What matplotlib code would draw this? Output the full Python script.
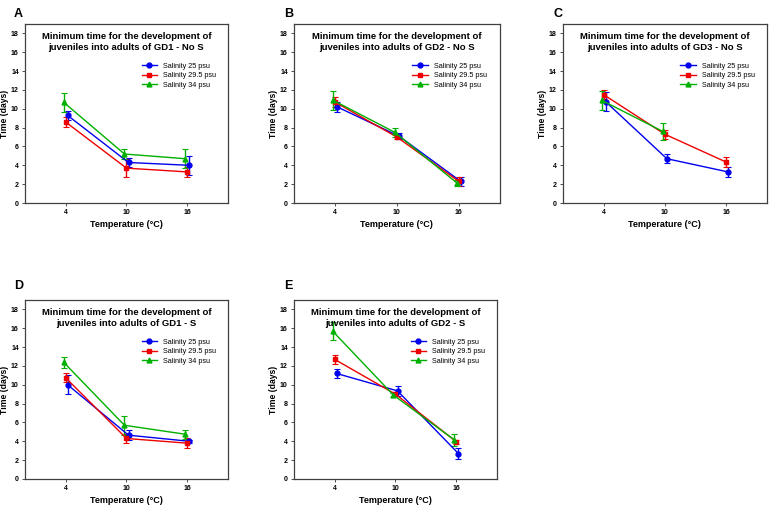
import numpy as np
import matplotlib
matplotlib.use("Agg")
import matplotlib.pyplot as plt
from matplotlib.lines import Line2D

plt.rcParams['font.family'] = ['Liberation Sans', 'DejaVu Sans']

temps = [4, 10, 16]
series_names = ["Salinity 25 psu", "Salinity 29.5 psu", "Salinity 34 psu"]
panel_letters = ["A", "B", "C", "D", "E"]
panel_titles = [
    "Minimum time for the development of\njuveniles into adults of GD1 - No S",
    "Minimum time for the development of\njuveniles into adults of GD2 - No S",
    "Minimum time for the development of\njuveniles into adults of GD3 - No S",
    "Minimum time for the development of\njuveniles into adults of GD1 - S",
    "Minimum time for the development of\njuveniles into adults of GD2 - S",
]

# means per panel: [25 psu, 29.5 psu, 34 psu], each at 4, 10, 16 C
means_A = [[9.3, 4.3, 4.0], [8.6, 3.7, 3.3], [10.7, 5.2, 4.7]]
errs_A = [[0.5, 0.5, 1.0], [0.55, 0.95, 0.5], [1.0, 0.5, 1.0]]
means_B = [[10.2, 7.1, 2.3], [10.7, 7.0, 2.3], [10.9, 7.5, 2.15]]
errs_B = [[0.5, 0.3, 0.5], [0.5, 0.2, 0.5], [1.0, 0.5, 0.3]]
means_C = [[10.75, 4.7, 3.3], [11.5, 7.3, 4.35], [10.9, 7.6, np.nan]]
errs_C = [[1.0, 0.5, 0.5], [0.5, 0.5, 0.5], [1.0, 0.9, np.nan]]
means_D = [[10.0, 4.65, 4.0], [10.75, 4.3, 3.8], [12.4, 5.7, 4.75]]
errs_D = [[1.0, 0.5, 0.15], [0.5, 0.5, 0.5], [0.6, 1.0, 0.5]]
means_E = [[11.2, 9.35, 2.7], [12.7, 9.0, 3.95], [15.7, 8.9, 4.15]]
errs_E = [[0.5, 0.5, 0.6], [0.5, 0.2, 0.2], [1.0, 0.2, 0.6]]

all_means = [means_A, means_B, means_C, means_D, means_E]
all_errs = [errs_A, errs_B, errs_C, errs_D, errs_E]

colors = ["#0000ee", "#ee0000", "#00b000"]
markers = ["o", "s", "^"]
offsets = [0.2, 0.0, -0.2]

# axes rects in figure fractions
rects = [
    [0.0324, 0.598, 0.2633, 0.3545],
    [0.3813, 0.598, 0.2670, 0.3545],
    [0.7300, 0.598, 0.2646, 0.3545],
    [0.0324, 0.0515, 0.2633, 0.3545],
    [0.3813, 0.0515, 0.2633, 0.3545],
]
letter_pos = [(0.024, 0.985), (0.374, 0.985), (0.724, 0.985), (0.024, 0.445), (0.374, 0.445)]

fig = plt.figure(figsize=(7.71, 5.05), dpi=100)

for p in range(5):
    ax = fig.add_axes(rects[p])
    handles = []
    for s in range(3):
        xs = np.array(temps) + offsets[s]
        ax.errorbar(xs, all_means[p][s], yerr=all_errs[p][s], color=colors[s],
                    marker=markers[s], markersize=3.5, linewidth=1.0,
                    elinewidth=1.0, capsize=2, capthick=0.8)
        handles.append(Line2D([], [], color=colors[s], marker=markers[s],
                              markersize=3.5, linewidth=1.0, label=series_names[s]))
    ax.set_xlim(0, 20)
    ax.set_ylim(0, 19)
    ax.set_xticks(temps)
    ax.set_yticks(range(0, 19, 2))
    ax.tick_params(labelsize=5, length=2.5, width=0.6, pad=2, color="#333333")
    for lab in ax.get_xticklabels() + ax.get_yticklabels():
        lab.set_fontweight("bold")
    for sp in ax.spines.values():
        sp.set_color("#404040")
        sp.set_linewidth(0.9)
    ax.set_xlabel("Temperature (\u00b0C)", fontsize=6.5, fontweight="bold", labelpad=3)
    ax.set_ylabel("Time (days)", fontsize=6.2, fontweight="bold")
    ax.yaxis.set_label_coords(-0.078, 0.5)
    ax.text(0.5, 0.955, panel_titles[p], transform=ax.transAxes, ha="center", va="top",
            fontsize=6.8, fontweight="bold", linespacing=1.3)
    ax.legend(handles=handles, loc="upper left", bbox_to_anchor=(0.56, 0.8), frameon=False,
              fontsize=5.2, handlelength=2.2, labelspacing=0.35, borderaxespad=0)
    fig.text(letter_pos[p][0], letter_pos[p][1], panel_letters[p], fontsize=9,
             fontweight="bold", ha="center", va="top")

fig.savefig("out.png", dpi=100)
